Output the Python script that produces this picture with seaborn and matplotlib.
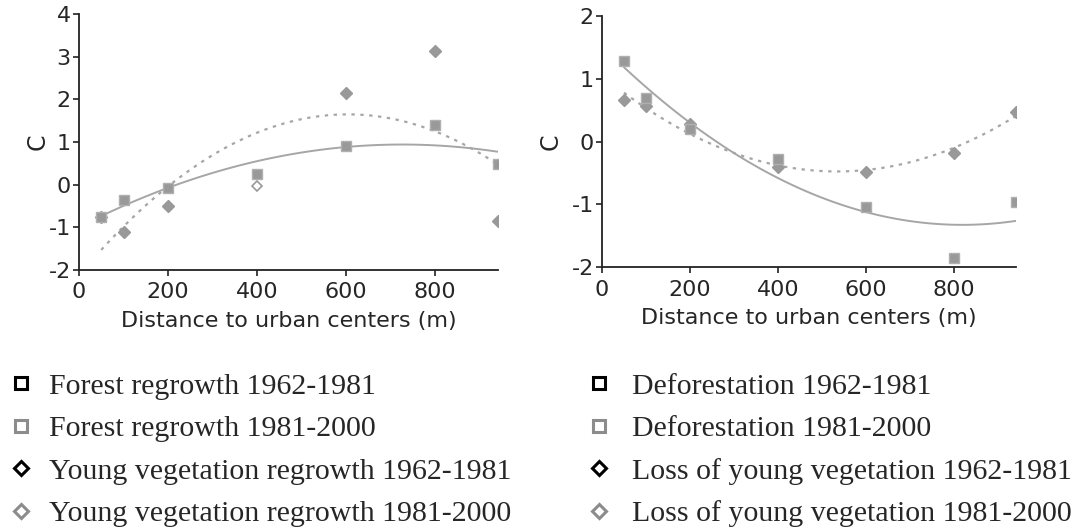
import numpy as np
import pandas as pd
import seaborn as sns
import matplotlib.pyplot as plt
from matplotlib.lines import Line2D

sns.set_style("white")
plt.rcParams['font.family'] = ['DejaVu Sans']
plt.rcParams['axes.unicode_minus'] = False

# ---- data ----
distance = [50, 100, 200, 400, 600, 800, 940]

forest_regrowth = [-0.76, -0.36, -0.07, 0.24, 0.90, 1.39, 0.48]
young_regrowth = [-0.75, -1.12, -0.50, -0.02, 2.14, 3.14, -0.85]

deforestation = [1.29, 0.70, 0.20, -0.28, -1.04, -1.85, -0.97]
young_loss = [0.66, 0.56, 0.28, -0.41, -0.48, -0.18, 0.47]

hollow_x = [400]  # point drawn hollow in left panel (young vegetation)

left_labels = ["Forest regrowth 1962-1981", "Forest regrowth 1981-2000",
               "Young vegetation regrowth 1962-1981", "Young vegetation regrowth 1981-2000"]
right_labels = ["Deforestation 1962-1981", "Deforestation 1981-2000",
                "Loss of young vegetation 1962-1981", "Loss of young vegetation 1981-2000"]

xticks = [0, 200, 400, 600, 800]

GRAY = "#999999"
LINE = "#a6a6a6"

fig = plt.figure(figsize=(10.74, 5.30), dpi=100)
W, H = 1074, 530
ax1 = fig.add_axes([79 / W, 1 - 270 / H, (498 - 79) / W, (270 - 14) / H])
ax2 = fig.add_axes([602 / W, 1 - 267 / H, (1016 - 602) / W, (267 - 16) / H])


def panel(ax, sq, dm, ylim, yticks, ylabelpad, hollow=()):
    df = pd.DataFrame({"x": distance, "sq": sq, "dm": dm})
    sns.regplot(data=df, x="x", y="sq", order=2, ci=None, scatter=False, truncate=True,
                ax=ax, line_kws=dict(color=LINE, lw=1.4, ls="-"))
    sns.regplot(data=df, x="x", y="dm", order=2, ci=None, scatter=False, truncate=True,
                ax=ax, line_kws=dict(color=LINE, lw=1.6, ls=(0, (1.5, 2.5))))
    filled = df[~df["x"].isin(hollow)]
    hol = df[df["x"].isin(hollow)]
    ax.plot(filled["x"], filled["dm"], ls="none", marker="D", ms=6.2, color=GRAY, mec=GRAY)
    if len(hol):
        ax.plot(hol["x"], hol["dm"], ls="none", marker="D", ms=5.5, mfc="white", mec=GRAY, mew=1.2)
    ax.plot(df["x"], df["sq"], ls="none", marker="s", ms=7.2, color=GRAY, mec="#b0b0b0")
    ax.set_xlim(0, 941)
    ax.set_ylim(*ylim)
    ax.set_xticks(xticks)
    ax.set_yticks(yticks)
    ax.set_xlabel("Distance to urban centers (m)", fontsize=16, labelpad=6)
    ax.set_ylabel("C", fontsize=17, labelpad=ylabelpad)
    for s in ["top", "right"]:
        ax.spines[s].set_visible(False)
    for s in ["left", "bottom"]:
        ax.spines[s].set_color("#222222")
        ax.spines[s].set_linewidth(1.3)
    ax.tick_params(axis="both", direction="out", length=4, width=1.2, color="#222222",
                   labelsize=16, pad=2, left=True, bottom=True)
    ax.tick_params(axis="x", pad=5)


panel(ax1, forest_regrowth, young_regrowth, (-2, 4), [-2, -1, 0, 1, 2, 3, 4], -1, hollow_x)
panel(ax2, deforestation, young_loss, (-2, 2), [-2, -1, 0, 1, 2], 6)


def make_handles(labels):
    specs = [("s", "black"), ("s", "#8c8c8c"), ("D", "black"), ("D", "#8c8c8c")]
    return [Line2D([], [], ls="none", marker=m, ms=8.5 if m == "s" else 7.5, mfc="white", mec=c, mew=2.2,
                   label=l) for (m, c), l in zip(specs, labels)]


legkw = dict(frameon=False, prop={"family": "Liberation Serif", "size": 21.5},
             handlelength=0.8, handletextpad=0.55, labelspacing=0.52, borderaxespad=0,
             borderpad=0, loc="upper left")
fig.legend(handles=make_handles(left_labels), bbox_to_anchor=(9 / W, 1 - 373 / H), **legkw)
fig.legend(handles=make_handles(right_labels), bbox_to_anchor=(587 / W, 1 - 373 / H),
           **{**legkw, "handletextpad": 0.72})

fig.savefig("out.png", dpi=100)
